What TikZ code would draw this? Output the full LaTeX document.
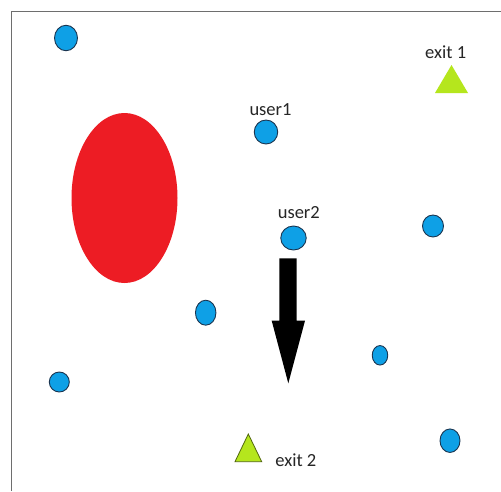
\documentclass[tikz,border=0pt]{standalone}
\usepackage{fontspec}
\setmainfont{Carlito}
\usetikzlibrary{shapes.geometric}
\definecolor{userblue}{HTML}{0EA0E6}
\definecolor{userline}{HTML}{1B3550}
\definecolor{blobred}{HTML}{ED1C24}
\definecolor{exitgreen}{HTML}{B5E61D}
\definecolor{framegray}{HTML}{6E6E6E}
\definecolor{labelgray}{HTML}{262626}
\tikzset{
  user/.style={ellipse, fill=userblue, draw=userline, line width=0.9pt, inner sep=0pt},
  lbl/.style={anchor=base, text=labelgray, inner sep=0pt, font=\fontsize{18.5}{20}\selectfont},
}
\begin{document}
\begin{tikzpicture}[x=1pt,y=-1pt]
\useasboundingbox (0,0) rectangle (501,491);
\fill[white] (0,0) rectangle (501,491);
% frame (top and left edges visible)
\draw[framegray, line width=1.4pt] (11.5,491) -- (11.5,11.5) -- (501,11.5);
% obstacle
\node[ellipse, fill=blobred, inner sep=0pt, minimum width=106pt, minimum height=170pt] (blob) at (124.5,198) {};
% users
\node[user, minimum width=23pt, minimum height=25.5pt] (u0) at (66,38) {};
\node[user, minimum width=23.5pt, minimum height=24pt] (u1) at (266,132) {};
\node[user, minimum width=25.5pt, minimum height=24pt] (u2) at (293.5,238) {};
\node[user, minimum width=21pt, minimum height=22pt] (u3) at (433,226) {};
\node[user, minimum width=20.5pt, minimum height=25pt] (u4) at (205.7,312.7) {};
\node[user, minimum width=20pt, minimum height=20pt] (u5) at (59.3,382) {};
\node[user, minimum width=15.5pt, minimum height=19.5pt] (u6) at (380,355.3) {};
\node[user, minimum width=20pt, minimum height=23.5pt] (u7) at (450,440.7) {};
% labels
\node[lbl] (l1) at (270.5,115) {user1};
\node[lbl] (l2) at (298.8,218.3) {user2};
\node[lbl] (e1) at (445.7,58.3) {exit 1};
\node[lbl] (e2) at (295.8,466.5) {exit 2};
% exits
\fill[exitgreen] (451.5,65) -- (468,93) -- (435,93) -- cycle;
\filldraw[fill=exitgreen, draw=black!55!exitgreen, line width=0.8pt] (248.3,434) -- (261.7,461.7) -- (235,461.7) -- cycle;
% movement arrow
\fill[black] (279.3,258.3) -- (296.7,258.3) -- (296.7,320.7) -- (305,320.7) -- (288.3,383.3) -- (271.7,320.7) -- (279.3,320.7) -- cycle;
\end{tikzpicture}
\end{document}
